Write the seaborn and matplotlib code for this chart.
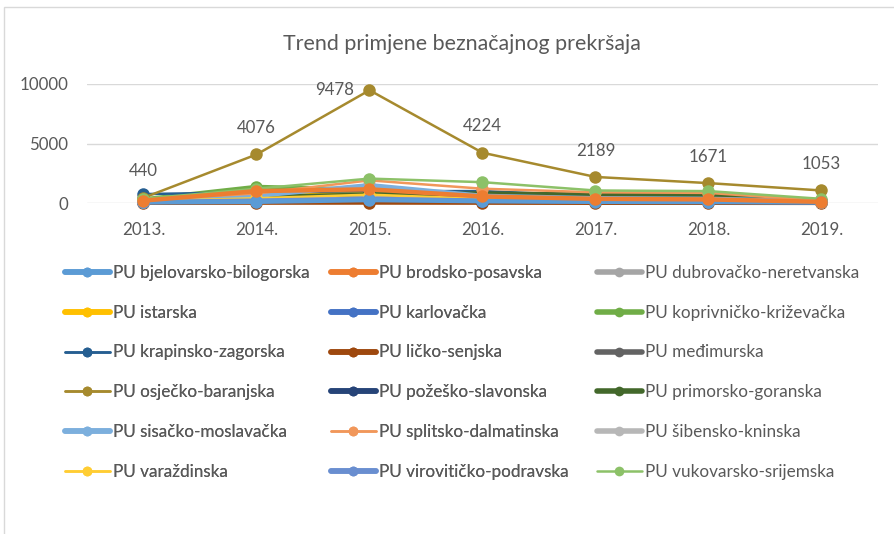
import seaborn as sns
import matplotlib.pyplot as plt
from matplotlib.lines import Line2D
from matplotlib.patches import Rectangle

# data
years = ['2013.', '2014.', '2015.', '2016.', '2017.', '2018.', '2019.']

regions = [
  'PU bjelovarsko-bilogorska', 'PU brodsko-posavska', 'PU dubrovačko-neretvanska',
  'PU istarska', 'PU karlovačka', 'PU koprivničko-križevačka',
  'PU krapinsko-zagorska', 'PU ličko-senjska', 'PU međimurska',
  'PU osječko-baranjska', 'PU požeško-slavonska', 'PU primorsko-goranska',
  'PU sisačko-moslavačka', 'PU splitsko-dalmatinska', 'PU šibensko-kninska',
  'PU varaždinska', 'PU virovitičko-podravska', 'PU vukovarsko-srijemska',
]

bjelovarsko = [50, 100, 250, 150, 100, 80, 50]
brodsko = [200, 1000, 1150, 550, 350, 300, 100]
dubrovacko = [150, 300, 500, 300, 200, 200, 100]
istarska = [200, 600, 900, 400, 300, 250, 100]
karlovacka = [100, 300, 450, 250, 150, 150, 80]
koprivnicko = [300, 1350, 1100, 700, 500, 450, 150]
krapinsko = [750, 900, 1000, 1000, 600, 550, 150]
licko = [20, 30, 40, 30, 20, 20, 10]
medimurska = [100, 400, 600, 500, 400, 350, 100]
osjecko = [440, 4076, 9478, 4224, 2189, 1671, 1053]
pozesko = [100, 200, 300, 200, 150, 150, 50]
primorsko = [150, 500, 700, 800, 700, 650, 200]
sisacko = [200, 600, 1500, 600, 400, 350, 150]
splitsko = [250, 800, 1900, 1200, 900, 850, 200]
sibensko = [100, 250, 400, 300, 250, 200, 100]
varazdinska = [150, 400, 700, 350, 300, 250, 100]
viroviticko = [80, 200, 350, 200, 150, 120, 60]
vukovarsko = [350, 1200, 2050, 1750, 1050, 1000, 350]

series = [
  bjelovarsko, brodsko, dubrovacko, istarska, karlovacka, koprivnicko,
  krapinsko, licko, medimurska, osjecko, pozesko, primorsko,
  sisacko, splitsko, sibensko, varazdinska, viroviticko, vukovarsko,
]

colors = [
  '#5B9BD5', '#ED7D31', '#A5A5A5', '#FFC000', '#4472C4', '#70AD47',
  '#255E91', '#9E480E', '#636363', '#A68A2E', '#264478', '#43682B',
  '#7CAFDD', '#F1975A', '#B7B7B7', '#FFCD33', '#698ED0', '#8CC168',
]
thin = {6, 9, 13, 15, 17}

sns.set_theme(style='white')
plt.rcParams['font.family'] = ['Lato', 'DejaVu Sans']
text_color = '#595959'

fig = plt.figure(figsize=(8.95, 5.34), dpi=100)
fig.patches.append(Rectangle((4 / 895, -0.01), 1.0, 1 - 7 / 534 + 0.01, transform=fig.transFigure,
                             fill=False, edgecolor='#D9D9D9', lw=1))

ax = fig.add_axes([87 / 895, (534 - 203) / 534, (878 - 87) / 895, (203 - 84) / 534])

x = list(range(len(years)))
order = list(range(2, 18)) + [0, 1]  # blue and orange markers end up on top
for i in order:
  lw = 1.8 if i in thin else 3.2
  sns.lineplot(x=x, y=series[i], ax=ax, color=colors[i], lw=lw, marker='o',
               markersize=9, markeredgewidth=0, clip_on=False, zorder=3 + order.index(i) * 0.01)

# data labels on the osijek series (the peak one sits to the left)
for xi, v in zip(x, osjecko):
  if v == max(osjecko):
    ax.annotate(str(v), (xi, v), xytext=(-11, 0), textcoords='offset points',
                ha='right', va='center', fontsize=12.2, color=text_color)
  else:
    ax.annotate(str(v), (xi, v), xytext=(0, 19), textcoords='offset points',
                ha='center', va='center', fontsize=12.2, color=text_color)

ax.set_xlim(-0.5, 6.5)
ax.set_ylim(0, 10000)
ax.set_yticks([0, 5000, 10000])
ax.set_xticks(x)
ax.set_xticklabels(years)
ax.tick_params(axis='both', length=0, labelsize=12.2, colors=text_color)
ax.tick_params(axis='y', pad=13.5)
ax.tick_params(axis='x', pad=14)
ax.grid(axis='y', color='#D9D9D9', lw=1)
ax.set_axisbelow(True)
for s in ax.spines.values():
  s.set_visible(False)

fig.text(462 / 895, 1 - 44 / 534, 'Trend primjene beznačajnog prekršaja', ha='center', va='center',
         fontsize=15.4, color=text_color)

# legend: three columns, row-major order like the original
handles = []
for i in range(len(regions)):
  lw = 1.8 if i in thin else 4
  handles.append(Line2D([], [], color=colors[i], lw=lw, marker='o', markersize=7, markeredgewidth=0))

col_x = [65, 331, 597]
for c in range(3):
  idx = list(range(c, 18, 3))
  leg = fig.legend([handles[i] for i in idx], [regions[i] for i in idx],
                   loc='upper left', bbox_to_anchor=(col_x[c] / 895, 1 - 265 / 534),
                   frameon=False, fontsize=12.3, labelcolor=text_color,
                   handlelength=2.63, handletextpad=0.18, labelspacing=1.39, borderpad=0, borderaxespad=0)
  if c < 2:
    fig.add_artist(leg)

fig.savefig('out.png', dpi=100)
